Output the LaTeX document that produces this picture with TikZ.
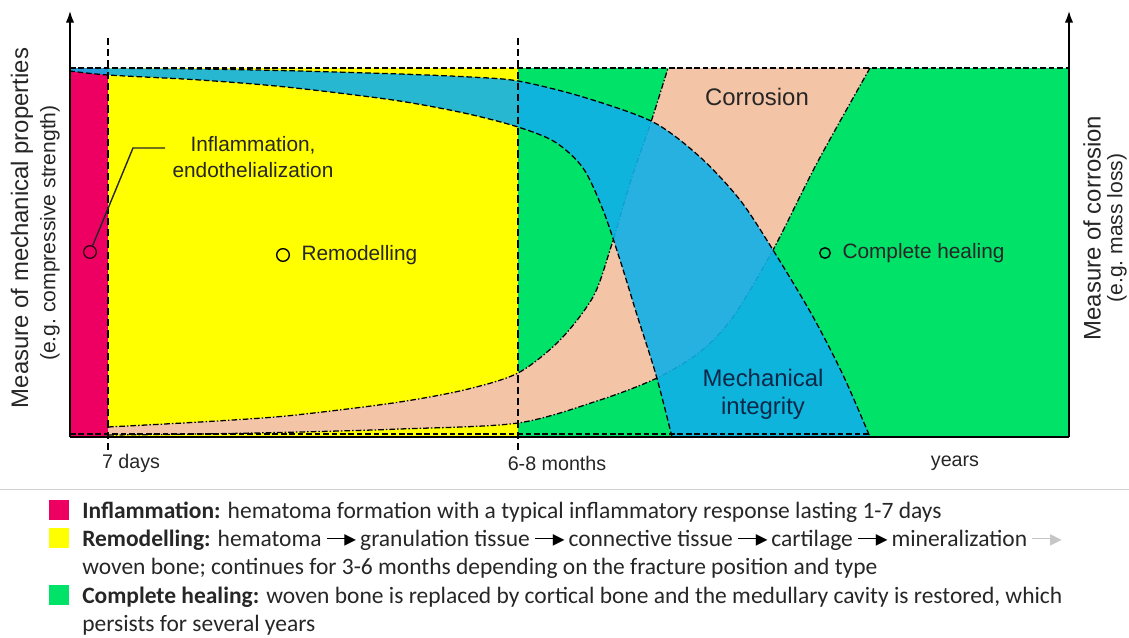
\documentclass[tikz,border=0pt]{standalone}
\usepackage{fontspec}
\setmainfont{Liberation Sans}
\newfontfamily\calibrifont{Carlito}
\newfontfamily\arrowglyphfont{DejaVu Sans}
\usepackage{xcolor}
\usetikzlibrary{positioning,arrows.meta}

\definecolor{inflpink}{RGB}{238,0,98}
\definecolor{remodyellow}{RGB}{255,255,0}
\definecolor{healgreen}{RGB}{0,226,104}
\definecolor{corrpeach}{RGB}{244,196,166}
\definecolor{mechblue}{RGB}{16,176,232}
\definecolor{mechnavy}{RGB}{12,40,72}

% small arrow used in the legend text
\newcommand{\flowarrow}[1][black]{\ {\color{#1}\rule[0.3em]{0.9em}{0.06em}\kern-0.15em{\arrowglyphfont\char"25B8}}\,}

\begin{document}
\begin{tikzpicture}[
  x=0.025cm, y=-0.025cm,
  every node/.style={font=\fontsize{14.8}{19}\selectfont, text=black!85, inner sep=1pt},
  axisline/.style={line width=1.8pt, -{Latex[length=9pt,width=6pt]}},
  bandline/.style={line width=0.9pt, dash pattern=on 4pt off 2pt},
  dashdot/.style={line width=0.9pt, dash pattern=on 4pt off 1.5pt on 1pt off 1.5pt},
  timeline/.style={line width=0.8pt, dash pattern=on 5pt off 3pt},
  marker/.style={circle, draw, line width=1pt, minimum size=9pt, inner sep=0pt},
  axislabel/.style={rotate=90, font=\fontsize{17}{20}\selectfont},
  sublabel/.style={rotate=90, font=\fontsize{15}{18}\selectfont},
  ticklabel/.style={font=\fontsize{14}{16}\selectfont},
  bigtext/.style={font=\fontsize{17}{20}\selectfont},
  legbox/.style={minimum width=14pt, minimum height=14pt, inner sep=0pt},
  legtext/.style={font=\calibrifont\fontsize{16.7}{20}\selectfont, anchor=base west, inner sep=0pt}
]
  \useasboundingbox (0,0) rectangle (1129,637);

  % phases
  \fill[inflpink] (70,68) rectangle (108,437);
  \fill[remodyellow] (108,68) rectangle (518,437);
  \fill[healgreen] (518,68) rectangle (1069,437);

  % corrosion
  \fill[corrpeach] plot[smooth] coordinates {(108,427) (200,422) (286,416) (393,403) (464,390) (518,373) (560,340) (593,297) (610,250) (631,180) (651,122) (668,68)}
    -- plot[smooth] coordinates {(870,68) (817,163) (773,250) (733,317) (700,352) (657,378) (600,400) (518,423) (400,429) (300,432) (200,434) (108,435)} -- cycle;
  \draw[dashdot] plot[smooth] coordinates {(108,427) (200,422) (286,416) (393,403) (464,390) (518,373) (560,340) (593,297) (610,250) (631,180) (651,122) (668,68)};
  \draw[dashdot] plot[smooth] coordinates {(870,68) (817,163) (773,250) (733,317) (700,352) (657,378) (600,400) (518,423) (400,429) (300,432) (200,434) (108,435)};

  % mechanical integrity
  \fill[mechblue, opacity=0.9] plot[smooth] coordinates {(70,68) (200,69) (300,71) (400,74) (470,77) (518,81) (583,97) (653,122) (700,157) (740,200) (773,250) (812,315) (843,375) (870,437)}
    -- plot[smooth] coordinates {(672,437) (656,375) (637,315) (620,260) (603,210) (583,168) (555,142) (518,127) (464,113) (393,100) (286,87) (200,80) (108,75) (70,71)} -- cycle;
  \draw[bandline] plot[smooth] coordinates {(70,68) (200,69) (300,71) (400,74) (470,77) (518,81) (583,97) (653,122) (700,157) (740,200) (773,250) (812,315) (843,375) (870,437)};
  \draw[bandline] plot[smooth] coordinates {(672,437) (656,375) (637,315) (620,260) (603,210) (583,168) (555,142) (518,127) (464,113) (393,100) (286,87) (200,80) (108,75) (70,71)};
  \draw[bandline] (70,68) -- (1069,68);
  \draw[bandline] (70,434) -- (870,434);

  % time marks
  \draw[timeline] (108,38) -- (108,452);
  \draw[timeline] (518,38) -- (518,452);

  % axes
  \coordinate (origin) at (70,437);
  \coordinate (ytop) at (70,10);
  \coordinate (xend) at (1069,437);
  \coordinate (ctop) at (1069,10);
  \draw[axisline] (origin) -- (ytop);
  \draw[axisline] (xend) -- (ctop);
  \draw[line width=1.8pt] (origin) -- (xend);

  \node[axislabel] (ylab) at (22,228) {Measure of mechanical properties};
  \node[sublabel] (ysub) at (50,233) {(e.g.\ compressive strength)};
  \node[axislabel] (clab) at (1092,228) {Measure of corrosion};
  \node[sublabel] (csub) at (1117,228) {(e.g.\ mass loss)};

  \node[ticklabel] (days) at (131,463) {7 days};
  \node[ticklabel] (months) at (557,463) {6-8 months};
  \node[ticklabel] (years) at (955,463) {years};

  % labels in the chart
  \node[marker, draw=black!80!inflpink] (infl-dot) at (90,252) {};
  \coordinate (infl-bend) at (133,148);
  \coordinate (infl-end) at (165,148);
  \draw[line width=1pt, black!85] (infl-dot) -- (infl-bend) -- (infl-end);
  \node[align=center] (infl) at (253,157) {Inflammation,\\endothelialization};

  \node[marker] (remod-dot) at (283,255) {};
  \node[right=7pt of remod-dot] (remod) {Remodelling};
  \node[marker, minimum size=7.5pt] (heal-dot) at (825,253) {};
  \node[right=7pt of heal-dot] (heal) {Complete healing};

  \node[bigtext] (corr) at (757,97) {Corrosion};
  \node[bigtext, align=center, text=mechnavy] (mech) at (763,394) {Mechanical\\integrity};

  % legend
  \draw[gray!35, line width=0.6pt] (0,489) -- (1129,489);
  \node[legbox, fill=inflpink] (infl-box) at (59,510) {};
  \node[legbox, fill=remodyellow] (remod-box) at (59,538) {};
  \node[legbox, fill=healgreen] (heal-box) at (59,595) {};
  \node[legtext] (infl-text) at (82,518) {\textbf{Inflammation:} hematoma formation with a typical inflammatory response lasting 1-7 days};
  \node[legtext] (remod-text) at (82,546) {\textbf{Remodelling:} hematoma\flowarrow granulation tissue\flowarrow connective tissue\flowarrow cartilage\flowarrow mineralization\flowarrow[gray!45]};
  \node[legtext] (remod-more) at (82,574) {woven bone; continues for 3-6 months depending on the fracture position and type};
  \node[legtext] (heal-text) at (82,603) {\textbf{Complete healing:} woven bone is replaced by cortical bone and the medullary cavity is restored, which};
  \node[legtext] (heal-more) at (82,631) {persists for several years};
\end{tikzpicture}
\end{document}
